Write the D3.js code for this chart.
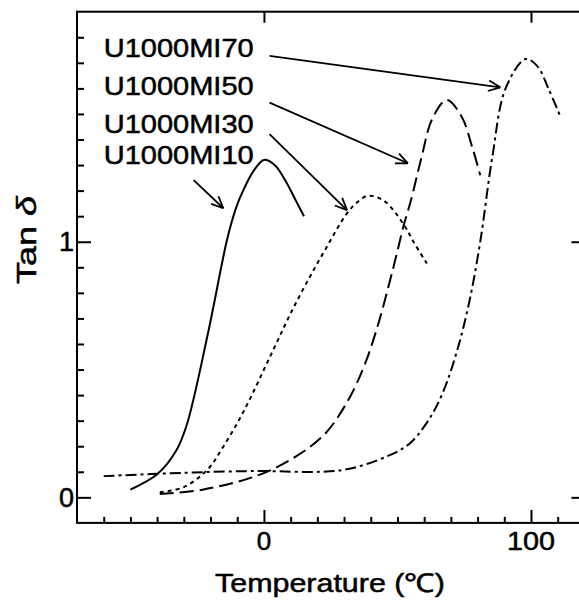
<!DOCTYPE html>
<html>
<head>
<meta charset="utf-8">
<script src="https://cdn.jsdelivr.net/npm/d3@7"></script>
<style>
  html, body { margin: 0; padding: 0; background: #fff; }
  svg { display: block; }
  text { font-family: "Liberation Sans", Arial, Helvetica, sans-serif; fill: #000; stroke: #000; stroke-width: 0.5; }
</style>
</head>
<body>
<svg id="chart" width="579" height="603"></svg>
<script>
// ---- data ----
const seriesNames = ["U1000MI10", "U1000MI30", "U1000MI50", "U1000MI70"];

const tempMI10 = [-50, -40, -33, -29, -21, -16, -14, -12, -10, -8, -4, 0, 4, 8, 12, 15];
const tanMI10  = [0.03, 0.09, 0.18, 0.28, 0.64, 0.90, 1.00, 1.08, 1.145, 1.195, 1.275, 1.32, 1.30, 1.24, 1.16, 1.10];

const tempMI30 = [-39, -30, -21, -16, -10, -5, 0, 5, 10, 16, 23, 31, 35, 39, 45, 52.5, 56, 61];
const tanMI30  = [0.02, 0.04, 0.11, 0.185, 0.29, 0.39, 0.50, 0.61, 0.72, 0.84, 0.97, 1.11, 1.155, 1.18, 1.16, 1.065, 1.00, 0.915];

const tempMI50 = [-39, -23, -2, 12, 23, 31, 37, 42, 48, 52.5, 55, 59, 63, 68.5, 74, 78, 81];
const tanMI50  = [0.013, 0.03, 0.087, 0.16, 0.25, 0.37, 0.50, 0.65, 0.88, 1.07, 1.16, 1.33, 1.48, 1.555, 1.49, 1.37, 1.26];

const tempMI70 = [-60, -30, -2, 21.5, 32.5, 46, 54.5, 61.5, 67, 72.5, 77, 81, 85.5, 90.5, 98, 102.5, 106.7, 111];
const tanMI70  = [0.083, 0.096, 0.103, 0.10, 0.113, 0.16, 0.21, 0.30, 0.41, 0.58, 0.77, 1.0, 1.33, 1.6, 1.715, 1.685, 1.595, 1.49];

const xMajorTicks = [0, 100];
const xMinorTicks = [-60, -50, -40, -30, -20, -10, 10, 20, 30, 40, 50, 60, 70, 80, 90, 110];
const yMajorTicks = [0, 1];
const yMinorTicks = [0.1, 0.2, 0.3, 0.4, 0.5, 0.6, 0.7, 0.8, 0.9, 1.1, 1.2, 1.3, 1.4, 1.5, 1.6, 1.7, 1.8];
const xTickLabels = ["0", "100"];
const yTickLabels = ["0", "1"];

// label anchor positions (data units) and arrow start/end (data units)
const labelPos = [[-60, 1.304], [-60, 1.425], [-60, 1.574], [-60, 1.723]];
const arrowFrom = [[-26.3, 1.241], [2.1, 1.421], [2.1, 1.544], [2.1, 1.727]];
const arrowTo   = [[-15.2, 1.131], [31.1, 1.124], [53.9, 1.307], [88.5, 1.604]];

// ---- chart ----
const svg = d3.select("#chart");
const x = d3.scaleLinear().domain([-70, 120]).range([77, 584.4]);
const y = d3.scaleLinear().domain([-0.1, 1.9]).range([522.9, 11.7]);

svg.append("rect").attr("width", 579).attr("height", 603).attr("fill", "#fff");

// frame
svg.append("rect")
  .attr("x", x(-70)).attr("y", y(1.9))
  .attr("width", x(120) - x(-70)).attr("height", y(-0.1) - y(1.9))
  .attr("fill", "none").attr("stroke", "#000").attr("stroke-width", 2);

function styleAxis(g) {
  g.select(".domain").remove();
  g.selectAll(".tick line").attr("stroke", "#000").attr("stroke-width", 2);
  g.selectAll(".tick text").remove();
}
// bottom
svg.append("g").attr("transform", `translate(0,${y(-0.1)})`)
  .call(d3.axisBottom(x).tickValues(xMinorTicks).tickSize(-6)).call(styleAxis);
svg.append("g").attr("transform", `translate(0,${y(-0.1)})`)
  .call(d3.axisBottom(x).tickValues(xMajorTicks).tickSize(-13)).call(styleAxis);
// top
svg.append("g").attr("transform", `translate(0,${y(1.9)})`)
  .call(d3.axisTop(x).tickValues(xMajorTicks).tickSize(-11)).call(styleAxis);
// left
svg.append("g").attr("transform", `translate(${x(-70)},0)`)
  .call(d3.axisLeft(y).tickValues(yMinorTicks).tickSize(-7)).call(styleAxis);
svg.append("g").attr("transform", `translate(${x(-70)},0)`)
  .call(d3.axisLeft(y).tickValues(yMajorTicks).tickSize(-14)).call(styleAxis);
// right
svg.append("g").attr("transform", `translate(${x(120)},0)`)
  .call(d3.axisRight(y).tickValues(yMajorTicks).tickSize(-13)).call(styleAxis);

// tick labels
svg.selectAll(".xlab").data(xMajorTicks).enter().append("text")
  .attr("x", d => x(d)).attr("y", 550)
  .attr("text-anchor", "middle").attr("font-size", 26)
  .attr("textLength", (d, i) => xTickLabels[i].length === 1 ? null : 48)
  .attr("lengthAdjust", "spacingAndGlyphs")
  .text((d, i) => xTickLabels[i]);
svg.selectAll(".ylab").data(yMajorTicks).enter().append("text")
  .attr("x", 74).attr("y", d => y(d) + 9.5)
  .attr("text-anchor", "end").attr("font-size", 27)
  .text((d, i) => yTickLabels[i]);

// axis titles
svg.append("text").attr("x", 330).attr("y", 591.7)
  .attr("text-anchor", "middle").attr("font-size", 26)
  .attr("textLength", 230).attr("lengthAdjust", "spacingAndGlyphs")
  .text("Temperature (℃)");
const yt = svg.append("text")
  .attr("transform", "translate(36,240) rotate(-90)")
  .attr("text-anchor", "middle").attr("font-size", 28)
  .attr("textLength", 88).attr("lengthAdjust", "spacingAndGlyphs");
yt.append("tspan").text("Tan ");
yt.append("tspan").attr("font-style", "italic").text("δ");

// curves
const allT = [tempMI10, tempMI30, tempMI50, tempMI70];
const allV = [tanMI10, tanMI30, tanMI50, tanMI70];
const dashes = [null, "4,4", "14,6", "11,4,3,4"];
const line = d3.line().x(d => x(d[0])).y(d => y(d[1])).curve(d3.curveCatmullRom.alpha(0.5));
allT.forEach((ts, i) => {
  const pts = ts.map((t, j) => [t, allV[i][j]]);
  svg.append("path").datum(pts)
    .attr("d", line)
    .attr("fill", "none").attr("stroke", "#000").attr("stroke-width", 2)
    .attr("stroke-dasharray", dashes[i]);
});

// labels
seriesNames.forEach((name, i) => {
  svg.append("text")
    .attr("x", x(labelPos[i][0])).attr("y", y(labelPos[i][1]))
    .attr("font-size", 26)
    .attr("textLength", 150).attr("lengthAdjust", "spacingAndGlyphs")
    .text(name);
  const x1 = x(arrowFrom[i][0]), y1 = y(arrowFrom[i][1]);
  const x2 = x(arrowTo[i][0]), y2 = y(arrowTo[i][1]);
  svg.append("line").attr("x1", x1).attr("y1", y1).attr("x2", x2).attr("y2", y2)
    .attr("stroke", "#000").attr("stroke-width", 1.8);
  const ang = Math.atan2(y2 - y1, x2 - x1);
  const L = 13, spread = 0.42;
  [ang + Math.PI - spread, ang + Math.PI + spread].forEach(a => {
    svg.append("line").attr("x1", x2).attr("y1", y2)
      .attr("x2", x2 + L * Math.cos(a)).attr("y2", y2 + L * Math.sin(a))
      .attr("stroke", "#000").attr("stroke-width", 1.8);
  });
});
</script>
</body>
</html>
